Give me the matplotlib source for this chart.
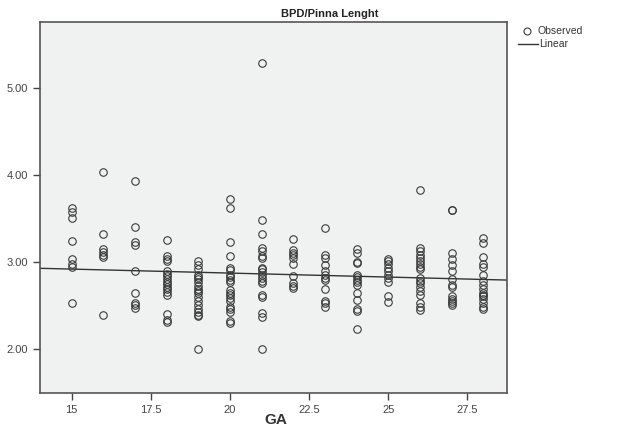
import numpy as np
from matplotlib import pyplot as plt

plt.rcParams['font.family'] = ['Liberation Sans', 'DejaVu Sans']

# GA week -> observed BPD/pinna length ratios
ga_15 = [3.63, 3.58, 3.51, 3.25, 3.04, 2.98, 2.95, 2.53]
ga_16 = [4.04, 3.32, 3.15, 3.12, 3.09, 3.06, 2.39]
ga_17 = [3.93, 3.41, 3.23, 3.20, 2.90, 2.65, 2.53, 2.51, 2.48]
ga_18 = [3.26, 3.07, 3.04, 3.01, 2.90, 2.87, 2.84, 2.81, 2.78, 2.75, 2.72,
         2.69, 2.66, 2.63, 2.41, 2.34, 2.32]
ga_19 = [3.01, 2.97, 2.92, 2.86, 2.83, 2.81, 2.77, 2.73, 2.69, 2.67, 2.65,
         2.60, 2.56, 2.51, 2.47, 2.43, 2.40, 2.38, 2.00]
ga_20 = [3.73, 3.63, 3.23, 3.07, 2.94, 2.91, 2.86, 2.83, 2.80, 2.77, 2.68,
         2.65, 2.62, 2.59, 2.56, 2.49, 2.46, 2.43, 2.33, 2.30]
ga_21 = [5.29, 3.49, 3.33, 3.16, 3.13, 3.07, 3.05, 2.94, 2.92, 2.89, 2.85,
         2.82, 2.79, 2.76, 2.63, 2.60, 2.42, 2.37, 2.00]
ga_22 = [3.27, 3.14, 3.11, 3.08, 3.05, 2.98, 2.84, 2.76, 2.73, 2.71]
ga_23 = [3.39, 3.09, 3.05, 2.97, 2.90, 2.85, 2.82, 2.80, 2.69, 2.56, 2.53, 2.49]
ga_24 = [3.15, 3.11, 3.00, 2.99, 2.86, 2.83, 2.80, 2.77, 2.74, 2.65, 2.57,
         2.46, 2.44, 2.24]
ga_25 = [3.04, 3.01, 2.98, 2.94, 2.90, 2.85, 2.82, 2.78, 2.61, 2.54]
ga_26 = [3.83, 3.16, 3.13, 3.09, 3.05, 3.01, 2.98, 2.95, 2.92, 2.82, 2.79,
         2.76, 2.72, 2.67, 2.63, 2.53, 2.49, 2.45]
ga_27 = [3.60, 3.60, 3.11, 3.04, 2.97, 2.90, 2.81, 2.74, 2.72, 2.61, 2.58,
         2.56, 2.53, 2.51]
ga_28 = [3.28, 3.22, 3.06, 2.98, 2.95, 2.85, 2.79, 2.74, 2.69, 2.65, 2.63,
         2.61, 2.58, 2.53, 2.49, 2.46]

weeks = list(range(15, 29))
groups = [ga_15, ga_16, ga_17, ga_18, ga_19, ga_20, ga_21, ga_22, ga_23,
          ga_24, ga_25, ga_26, ga_27, ga_28]

x_ticks = [15, 17.5, 20, 22.5, 25, 27.5]
y_ticks = [2.0, 3.0, 4.0, 5.0]

x = np.concatenate([[w] * len(g) for w, g in zip(weeks, groups)]).astype(float)
y = np.concatenate(groups)

fig = plt.figure(figsize=(6.19, 4.33), dpi=100)
ax = fig.add_axes([40 / 619, 1 - 393 / 433, 467 / 619, 371 / 433])
ax.set_facecolor('#f0f1f1')

ax.plot(x, y, 'o', ms=5.4, mfc='none', mec='#3a3a3a', mew=0.8, zorder=3)

slope, icept = np.polyfit(x, y, 1)
xl = np.array([14.0, 28.75])
ax.plot(xl, icept + slope * xl, color='#333333', lw=1.0, zorder=2)

ax.set_xlim(14.0, 28.75)
ax.set_ylim(1.5, 5.76)
ax.set_xticks(x_ticks)
ax.set_xticklabels([('%g' % t) for t in x_ticks])
ax.set_yticks(y_ticks)
ax.set_yticklabels(['%.2f' % t for t in y_ticks])
ax.tick_params(labelsize=8, colors='#444444', length=5, width=1)
for s in ax.spines.values():
    s.set_color('#555555')
    s.set_linewidth(1.2)

fig.text(276 / 619, 1 - 420 / 433, 'GA', ha='center', va='center',
         fontsize=11, fontweight='bold', color='#333333')
fig.text(330 / 619, 1 - 14 / 433, 'BPD/Pinna Lenght', ha='center', va='center',
         fontsize=8, fontweight='bold', color='#222222')

# legend drawn by hand to match SPSS layout
fig.lines.append(plt.Line2D([527 / 619], [1 - 31 / 433], marker='o', ms=5,
                            mfc='none', mec='#3a3a3a', mew=0.8,
                            transform=fig.transFigure))
fig.lines.append(plt.Line2D([518 / 619, 538 / 619], [1 - 44 / 433, 1 - 44 / 433],
                            color='#333333', lw=1.0, transform=fig.transFigure))
fig.text(538 / 619, 1 - 31 / 433, 'Observed', fontsize=7.5, color='#333333',
         va='center')
fig.text(539 / 619, 1 - 44 / 433, 'Linear', fontsize=7.5, color='#333333',
         va='center')

fig.savefig('out.png', dpi=100)
